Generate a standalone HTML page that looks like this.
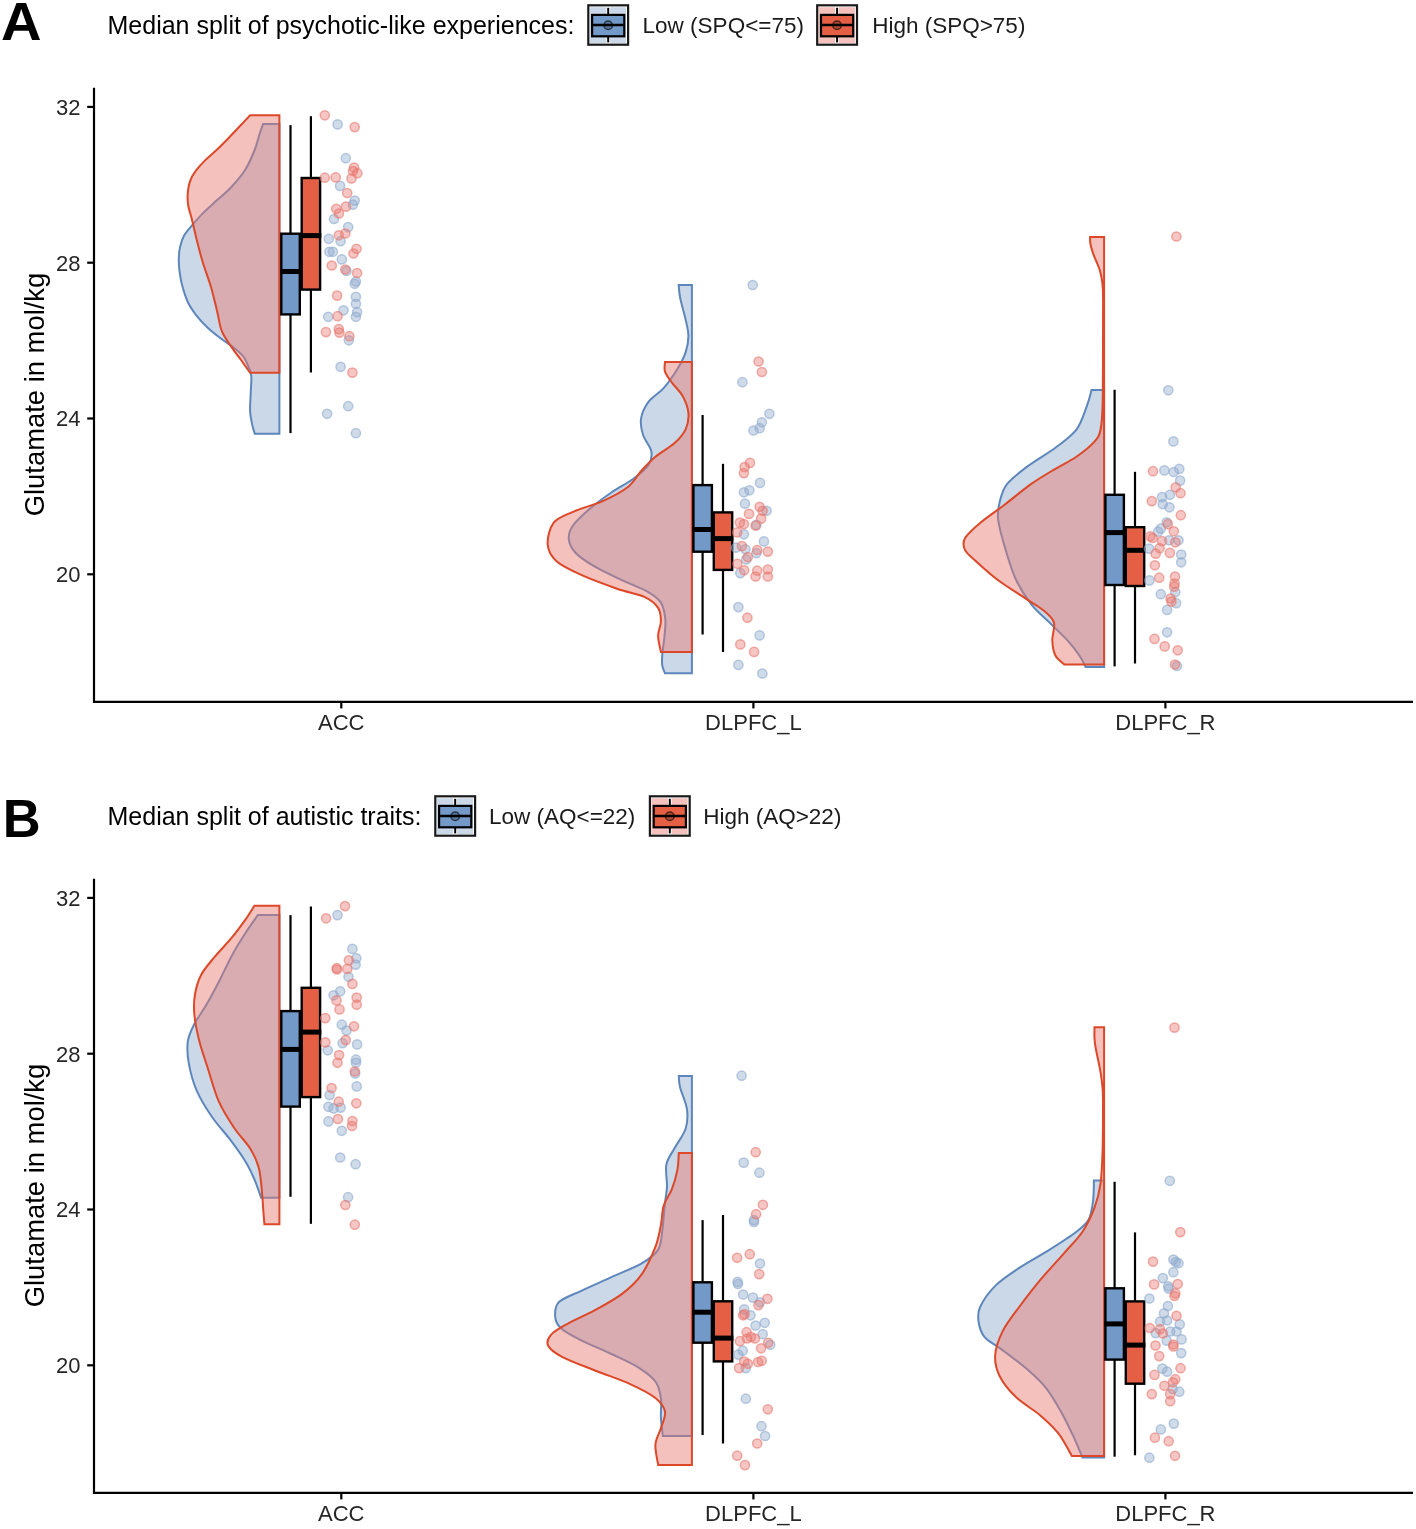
<!DOCTYPE html>
<html><head><meta charset="utf-8"><style>html,body{margin:0;padding:0;background:#fff;}svg{display:block;filter:blur(0.5px);}</style></head>
<body><svg width="1416" height="1529" viewBox="0 0 1416 1529">
<rect width="1416" height="1529" fill="#fff"/>
<text transform="translate(1.0 39.5) scale(1.06 1)" style="font-family:'Liberation Sans',sans-serif;font-weight:bold;font-size:53px" fill="#000">A</text><text x="107.5" y="33.8" style="font-family:'Liberation Sans',sans-serif;font-size:25px" fill="#000">Median split of psychotic-like experiences:</text><rect x="587.2" y="4.2" width="42" height="41.6" fill="#fff"/><g fill="rgb(142,170,205)" fill-opacity="0.46"><rect x="589.8" y="7.2" width="16.5" height="7.5"/><rect x="610.1" y="7.2" width="15.9" height="7.5"/><rect x="589.8" y="38.1" width="16.5" height="5.1"/><rect x="610.1" y="38.1" width="15.9" height="5.1"/><rect x="589.8" y="14.9" width="36.2" height="23.2"/></g><rect x="588.3" y="5.3" width="39.8" height="39.4" fill="none" stroke="#1a1a1a" stroke-width="2.2"/><line x1="608.2" y1="7.8" x2="608.2" y2="42.4" stroke="#000" stroke-width="2"/><rect x="592.1" y="14.9" width="32.2" height="21.4" fill="#7399c9" stroke="#000" stroke-width="2.2"/><circle cx="608.2" cy="25.2" r="4.3" fill="#000" fill-opacity="0.22" stroke="#000" stroke-opacity="0.6" stroke-width="1.5"/><line x1="592.1" y1="25" x2="624.3" y2="25" stroke="#000" stroke-width="2.4"/><text x="642.6" y="33.2" style="font-family:'Liberation Sans',sans-serif;font-size:22.5px" fill="#1a1a1a">Low (SPQ&lt;=75)</text><rect x="816.1" y="4.2" width="42" height="41.6" fill="#fff"/><g fill="rgb(230,120,112)" fill-opacity="0.46"><rect x="818.7" y="7.2" width="16.5" height="7.5"/><rect x="839" y="7.2" width="15.9" height="7.5"/><rect x="818.7" y="38.1" width="16.5" height="5.1"/><rect x="839" y="38.1" width="15.9" height="5.1"/><rect x="818.7" y="14.9" width="36.2" height="23.2"/></g><rect x="817.2" y="5.3" width="39.8" height="39.4" fill="none" stroke="#1a1a1a" stroke-width="2.2"/><line x1="837.1" y1="7.8" x2="837.1" y2="42.4" stroke="#000" stroke-width="2"/><rect x="821" y="14.9" width="32.2" height="21.4" fill="#e55f45" stroke="#000" stroke-width="2.2"/><circle cx="837.1" cy="25.2" r="4.3" fill="#000" fill-opacity="0.22" stroke="#000" stroke-opacity="0.6" stroke-width="1.5"/><line x1="821" y1="25" x2="853.2" y2="25" stroke="#000" stroke-width="2.4"/><text x="872.2" y="33.2" style="font-family:'Liberation Sans',sans-serif;font-size:22.5px" fill="#1a1a1a">High (SPQ&gt;75)</text><path d="M94 87.8 V701.8 H1413" fill="none" stroke="#000" stroke-width="2.2"/><line x1="87.2" y1="574.3" x2="94" y2="574.3" stroke="#000" stroke-width="2.2"/><text x="80.5" y="582.1" text-anchor="end" style="font-family:'Liberation Sans',sans-serif;font-size:22px" fill="#262626">20</text><line x1="87.2" y1="418.5" x2="94" y2="418.5" stroke="#000" stroke-width="2.2"/><text x="80.5" y="426.3" text-anchor="end" style="font-family:'Liberation Sans',sans-serif;font-size:22px" fill="#262626">24</text><line x1="87.2" y1="262.7" x2="94" y2="262.7" stroke="#000" stroke-width="2.2"/><text x="80.5" y="270.5" text-anchor="end" style="font-family:'Liberation Sans',sans-serif;font-size:22px" fill="#262626">28</text><line x1="87.2" y1="106.9" x2="94" y2="106.9" stroke="#000" stroke-width="2.2"/><text x="80.5" y="114.7" text-anchor="end" style="font-family:'Liberation Sans',sans-serif;font-size:22px" fill="#262626">32</text><line x1="341.3" y1="701.8" x2="341.3" y2="708.4" stroke="#000" stroke-width="2.2"/><text x="341.3" y="729.8" text-anchor="middle" style="font-family:'Liberation Sans',sans-serif;font-size:22px" fill="#262626">ACC</text><line x1="753.4" y1="701.8" x2="753.4" y2="708.4" stroke="#000" stroke-width="2.2"/><text x="753.4" y="729.8" text-anchor="middle" style="font-family:'Liberation Sans',sans-serif;font-size:22px" fill="#262626">DLPFC_L</text><line x1="1165.4" y1="701.8" x2="1165.4" y2="708.4" stroke="#000" stroke-width="2.2"/><text x="1165.4" y="729.8" text-anchor="middle" style="font-family:'Liberation Sans',sans-serif;font-size:22px" fill="#262626">DLPFC_R</text><text transform="translate(44.3 394.5) rotate(-90)" text-anchor="middle" style="font-family:'Liberation Sans',sans-serif;font-size:27.4px" fill="#000">Glutamate in mol/kg</text><path d="M279.4 124.1 L263 124.1 C262.4 125.8 260.9 130 259.5 134.2 C258.1 138.4 257.2 143.6 254.8 149.5 C252.5 155.4 249.3 163.2 245.4 169.5 C241.5 175.8 235.9 182.1 231.2 187.2 C226.5 192.3 221.8 195.8 217.1 200.1 C212.4 204.4 207.1 209 203 213.1 C198.9 217.2 195.6 221.2 192.4 224.9 C189.2 228.6 186.2 231.8 184.1 235.5 C182 239.2 180.9 243.3 180 247.2 C179.1 251.1 178.9 255.2 178.8 259 C178.7 262.8 178.9 265.8 179.4 270 C179.9 274.2 180.4 278.8 181.8 284.1 C183.2 289.4 185.3 296.7 187.7 301.8 C190 306.9 192.6 310.5 195.9 314.8 C199.2 319.1 203.6 323.8 207.7 327.7 C211.8 331.6 216.5 335.1 220.6 338.3 C224.7 341.5 228.7 343.7 232.4 346.6 C236.1 349.6 240.2 352.5 243 356 C245.8 359.5 247.5 364.5 248.9 367.8 C250.3 371.1 251 371.7 251.3 376 C251.6 380.3 250.9 387.8 250.7 393.7 C250.5 399.6 249.8 406 250.1 411.3 C250.4 416.6 251.6 421.8 252.4 425.5 C253.2 429.2 254.4 432.3 254.8 433.7 L279.4 433.7 Z" fill="rgb(142,170,205)" fill-opacity="0.46" stroke="#5d87bc" stroke-width="2" stroke-linejoin="miter"/><path d="M279.4 115.3 L250.1 115.3 C248.5 117 244.2 121.6 240.7 125.3 C237.2 129 232.8 133.7 228.9 137.7 C225 141.7 221 145.8 217.1 149.5 C213.2 153.2 208.8 156.6 205.3 160.1 C201.8 163.6 198.5 167.2 195.9 170.7 C193.3 174.2 191.4 177.4 190 181.3 C188.6 185.2 188 190.1 187.7 194.2 C187.4 198.3 187.6 201.9 188.3 206 C189 210.1 190.3 213.1 191.8 219 C193.3 224.9 195.4 234.6 197.1 241.3 C198.8 248 200.4 254.2 201.8 259 C203.2 263.8 203.7 265.2 205.3 270 C206.9 274.8 209.2 280.8 211.2 287.7 C213.2 294.6 215.3 303.9 217.1 311.2 C218.9 318.4 219.5 325.3 221.8 331.2 C224.2 337.1 228 341.9 231.2 346.6 C234.3 351.3 237.5 355.1 240.7 359.5 C243.8 363.9 248.5 370.6 250.1 372.8 L279.4 372.8 Z" fill="rgb(230,120,112)" fill-opacity="0.46" stroke="#dc4828" stroke-width="2" stroke-linejoin="miter"/><path d="M691.9 285.1 L678.7 285.1 C678.9 287.2 679 291.8 680.1 297.5 C681.2 303.2 684.2 313.1 685.6 319.5 C687 325.9 688.4 330.4 688.4 335.9 C688.4 341.4 687.4 346.9 685.6 352.4 C683.8 357.9 681.1 362.9 677.4 368.9 C673.7 374.8 668.4 382.6 663.6 388.1 C658.8 393.6 652.2 396.8 648.5 401.9 C644.8 406.9 642 412.9 641.1 418.4 C640.2 423.9 641.3 429.3 643 434.8 C644.7 440.3 650.4 446.3 651.3 451.3 C652.2 456.3 651.5 460.4 648.5 465 C645.5 469.6 639.6 474.2 633.4 478.8 C627.2 483.4 618.7 487.5 611.4 492.5 C604.1 497.5 595.9 503.5 589.5 509 C583.1 514.5 576.5 520.5 573 525.5 C569.5 530.5 568.3 534.6 568.8 539.2 C569.2 543.8 571.4 548.4 575.7 553 C580.1 557.6 587.1 562.1 594.9 566.7 C602.7 571.3 613.7 576.3 622.4 580.4 C631.1 584.5 640.7 587.7 647.1 591.4 C653.5 595.1 657.7 597.8 660.7 602.4 C663.7 607 664.7 613.4 665.3 619 C665.9 624.6 665 630.1 664.5 636 C664 641.9 662.7 649.7 662.3 654.6 C661.9 659.5 661.8 662.5 662.3 665.6 C662.8 668.7 664.5 672 665 673.3 L691.9 673.3 Z" fill="rgb(142,170,205)" fill-opacity="0.46" stroke="#5d87bc" stroke-width="2" stroke-linejoin="miter"/><path d="M691.9 362 L665 362 C665 363.6 663.9 368.2 665 371.6 C666.1 375 668.9 378.5 671.9 382.6 C674.9 386.7 680.1 391.3 682.9 396.4 C685.6 401.4 687.9 407.4 688.4 412.9 C688.9 418.4 687.9 424.3 685.6 429.3 C683.3 434.3 679.6 438.5 674.6 443.1 C669.6 447.7 660.9 452.2 655.4 456.8 C649.9 461.4 646.2 465.5 641.6 470.5 C637 475.5 634.3 481.9 627.9 487 C621.5 492.1 612.4 496.7 603.2 500.8 C594.1 504.9 581.2 508.1 573 511.8 C564.8 515.5 557.9 517.2 553.7 522.7 C549.5 528.2 547.2 538.3 547.7 544.7 C548.2 551.1 550.9 556.2 556.5 561.2 C562.1 566.2 571.1 570.3 581.2 574.9 C591.3 579.5 606.5 585 617 588.7 C627.5 592.4 637.5 593.7 644.4 596.9 C651.2 600.1 655.4 603.8 658.1 607.9 C660.9 612 660.9 617 660.9 621.6 C660.9 626.2 658.1 630.4 658.1 635.4 C658.1 640.4 660.4 649.1 660.9 651.9 L691.9 651.9 Z" fill="rgb(230,120,112)" fill-opacity="0.46" stroke="#dc4828" stroke-width="2" stroke-linejoin="miter"/><path d="M1104.1 390 L1091.5 390 C1090.8 392.6 1089.5 399 1087 405.6 C1084.5 412.2 1081.7 422.7 1076.4 429.7 C1071.1 436.7 1063.4 441.8 1055.4 447.8 C1047.4 453.8 1036.3 459.8 1028.3 465.8 C1020.3 471.8 1012 477.9 1007.2 483.9 C1002.4 489.9 1001.2 495.9 999.7 501.9 C998.2 507.9 997.2 512 998.2 520 C999.2 528 1002.7 540.1 1005.7 550.1 C1008.7 560.1 1011.9 571.2 1016.2 580.2 C1020.5 589.2 1025.8 597.3 1031.3 604.3 C1036.8 611.3 1043.3 616.4 1049.3 622.4 C1055.3 628.4 1062.4 634.9 1067.4 640.4 C1072.4 645.9 1076.4 651.1 1079.4 655.5 C1082.4 659.9 1084.5 665 1085.5 666.9 L1104.1 666.9 Z" fill="rgb(142,170,205)" fill-opacity="0.46" stroke="#5d87bc" stroke-width="2" stroke-linejoin="miter"/><path d="M1104.1 237 L1090.1 237 C1090.1 238.1 1089.9 241 1090.4 243.7 C1090.9 246.3 1091.9 249.8 1092.9 252.9 C1093.9 256 1095.4 259.1 1096.6 262 C1097.8 264.9 1099 267.6 1099.8 270.3 C1100.6 273 1101.1 275.3 1101.6 278.1 C1102.1 280.9 1102.5 283.6 1102.7 287.2 C1103 290.8 1103 290.3 1103.1 300 C1103.1 309.7 1103.1 327.8 1103 345.4 C1102.9 363 1103 391.6 1102.6 405.6 C1102.2 419.7 1101.8 423.7 1100.5 429.7 C1099.2 435.7 1098.5 437.2 1094.5 441.7 C1090.5 446.2 1082.9 452.3 1076.4 456.8 C1069.9 461.3 1062.9 464.3 1055.4 468.8 C1047.9 473.3 1039.8 477.9 1031.3 483.9 C1022.8 489.9 1012.7 498.5 1004.2 505 C995.7 511.5 986.6 517.5 980.1 523 C973.6 528.5 967.6 533.6 965.1 538.1 C962.6 542.6 963.1 546.1 965.1 550.1 C967.1 554.1 971.6 557.2 977.1 562.2 C982.6 567.2 990.2 574.2 998.2 580.2 C1006.2 586.2 1017.8 593.3 1025.3 598.3 C1032.8 603.3 1038.5 606.3 1043.3 610.3 C1048.1 614.3 1052.4 617.4 1053.9 622.4 C1055.4 627.4 1052 634.9 1052.3 640.4 C1052.5 645.9 1053.4 651.5 1055.4 655.5 C1057.4 659.5 1062.9 663 1064.4 664.5 L1104.1 664.5 Z" fill="rgb(230,120,112)" fill-opacity="0.46" stroke="#dc4828" stroke-width="2" stroke-linejoin="miter"/><line x1="290.5" y1="125.1" x2="290.5" y2="233.7" stroke="#000" stroke-width="2.2"/><line x1="290.5" y1="314.4" x2="290.5" y2="433.1" stroke="#000" stroke-width="2.2"/><rect x="281.3" y="233.7" width="18.5" height="80.7" fill="#7399c9" stroke="#000" stroke-width="2.4"/><line x1="280.1" y1="271.5" x2="301" y2="271.5" stroke="#000" stroke-width="5"/><line x1="310.9" y1="116.2" x2="310.9" y2="178" stroke="#000" stroke-width="2.2"/><line x1="310.9" y1="289.6" x2="310.9" y2="372.5" stroke="#000" stroke-width="2.2"/><rect x="301.7" y="178" width="18.4" height="111.6" fill="#e55f45" stroke="#000" stroke-width="2.4"/><line x1="300.5" y1="235.6" x2="321.3" y2="235.6" stroke="#000" stroke-width="5"/><line x1="702.6" y1="415" x2="702.6" y2="485.1" stroke="#000" stroke-width="2.2"/><line x1="702.6" y1="551.7" x2="702.6" y2="634.5" stroke="#000" stroke-width="2.2"/><rect x="693.4" y="485.1" width="18.5" height="66.6" fill="#7399c9" stroke="#000" stroke-width="2.4"/><line x1="692.2" y1="529.5" x2="713.1" y2="529.5" stroke="#000" stroke-width="5"/><line x1="723" y1="463.8" x2="723" y2="512.4" stroke="#000" stroke-width="2.2"/><line x1="723" y1="569.9" x2="723" y2="652" stroke="#000" stroke-width="2.2"/><rect x="713.8" y="512.4" width="18.4" height="57.5" fill="#e55f45" stroke="#000" stroke-width="2.4"/><line x1="712.6" y1="538.6" x2="733.4" y2="538.6" stroke="#000" stroke-width="5"/><line x1="1114.6" y1="389.8" x2="1114.6" y2="494.8" stroke="#000" stroke-width="2.2"/><line x1="1114.6" y1="585" x2="1114.6" y2="666.4" stroke="#000" stroke-width="2.2"/><rect x="1105.4" y="494.8" width="18.5" height="90.2" fill="#7399c9" stroke="#000" stroke-width="2.4"/><line x1="1104.2" y1="532.6" x2="1125.1" y2="532.6" stroke="#000" stroke-width="5"/><line x1="1135" y1="471.8" x2="1135" y2="527.2" stroke="#000" stroke-width="2.2"/><line x1="1135" y1="586" x2="1135" y2="663.5" stroke="#000" stroke-width="2.2"/><rect x="1125.8" y="527.2" width="18.4" height="58.8" fill="#e55f45" stroke="#000" stroke-width="2.4"/><line x1="1124.6" y1="550.3" x2="1145.4" y2="550.3" stroke="#000" stroke-width="5"/><g fill="rgb(142,170,205)" fill-opacity="0.42" stroke="rgb(142,170,205)" stroke-opacity="0.6" stroke-width="1.5"><circle cx="337.6" cy="124.4" r="4.6"/><circle cx="345.8" cy="158.2" r="4.6"/><circle cx="340.1" cy="185.9" r="4.6"/><circle cx="354.7" cy="200.6" r="4.6"/><circle cx="352.9" cy="204.6" r="4.6"/><circle cx="334" cy="219" r="4.6"/><circle cx="348.2" cy="227.1" r="4.6"/><circle cx="328.8" cy="238.8" r="4.6"/><circle cx="340.6" cy="241.2" r="4.6"/><circle cx="329.4" cy="251.8" r="4.6"/><circle cx="332.9" cy="251.8" r="4.6"/><circle cx="341.8" cy="259.4" r="4.6"/><circle cx="346.5" cy="271" r="4.6"/><circle cx="355.9" cy="281.5" r="4.6"/><circle cx="354.7" cy="283.8" r="4.6"/><circle cx="355.9" cy="296.8" r="4.6"/><circle cx="355.9" cy="303.8" r="4.6"/><circle cx="357.1" cy="312.1" r="4.6"/><circle cx="355.9" cy="316.8" r="4.6"/><circle cx="343.5" cy="310.3" r="4.6"/><circle cx="328.2" cy="316.8" r="4.6"/><circle cx="348.8" cy="340.3" r="4.6"/><circle cx="340.6" cy="366.8" r="4.6"/><circle cx="348.2" cy="406.2" r="4.6"/><circle cx="327.1" cy="413.8" r="4.6"/><circle cx="355.9" cy="433.2" r="4.6"/></g><g fill="rgb(230,120,112)" fill-opacity="0.42" stroke="rgb(230,120,112)" stroke-opacity="0.6" stroke-width="1.5"><circle cx="324.8" cy="115.3" r="4.6"/><circle cx="354.7" cy="127.1" r="4.6"/><circle cx="354.1" cy="167.6" r="4.6"/><circle cx="357.4" cy="173.2" r="4.6"/><circle cx="353" cy="171" r="4.6"/><circle cx="351.5" cy="178.4" r="4.6"/><circle cx="324.8" cy="177.7" r="4.6"/><circle cx="335.7" cy="177.4" r="4.6"/><circle cx="347.2" cy="193" r="4.6"/><circle cx="336.2" cy="208.8" r="4.6"/><circle cx="346" cy="206.6" r="4.6"/><circle cx="338.9" cy="213.5" r="4.6"/><circle cx="338.8" cy="235.3" r="4.6"/><circle cx="345.3" cy="233.5" r="4.6"/><circle cx="356.5" cy="248.8" r="4.6"/><circle cx="353.5" cy="253.5" r="4.6"/><circle cx="331.8" cy="265.5" r="4.6"/><circle cx="345.3" cy="269.5" r="4.6"/><circle cx="357.1" cy="273" r="4.6"/><circle cx="337.1" cy="295.6" r="4.6"/><circle cx="337.6" cy="316.2" r="4.6"/><circle cx="325.9" cy="332.1" r="4.6"/><circle cx="338.8" cy="329.1" r="4.6"/><circle cx="339.4" cy="332.6" r="4.6"/><circle cx="349.4" cy="336.2" r="4.6"/><circle cx="352.4" cy="372.6" r="4.6"/></g><g fill="rgb(142,170,205)" fill-opacity="0.42" stroke="rgb(142,170,205)" stroke-opacity="0.6" stroke-width="1.5"><circle cx="752.7" cy="285" r="4.6"/><circle cx="742.4" cy="382.2" r="4.6"/><circle cx="769.4" cy="413.8" r="4.6"/><circle cx="761.9" cy="422.3" r="4.6"/><circle cx="759.6" cy="428.2" r="4.6"/><circle cx="753.5" cy="430.5" r="4.6"/><circle cx="760" cy="482.9" r="4.6"/><circle cx="743.9" cy="492.3" r="4.6"/><circle cx="749.4" cy="490.3" r="4.6"/><circle cx="745" cy="503.7" r="4.6"/><circle cx="766.6" cy="510.8" r="4.6"/><circle cx="756.4" cy="524.9" r="4.6"/><circle cx="743.9" cy="534.3" r="4.6"/><circle cx="763.9" cy="541.4" r="4.6"/><circle cx="736" cy="547.7" r="4.6"/><circle cx="745.4" cy="549.3" r="4.6"/><circle cx="756.4" cy="553.2" r="4.6"/><circle cx="746.2" cy="559.5" r="4.6"/><circle cx="740.3" cy="573.1" r="4.6"/><circle cx="738.4" cy="607.1" r="4.6"/><circle cx="759.6" cy="635.4" r="4.6"/><circle cx="738.4" cy="664.9" r="4.6"/><circle cx="762.3" cy="673.5" r="4.6"/></g><g fill="rgb(230,120,112)" fill-opacity="0.42" stroke="rgb(230,120,112)" stroke-opacity="0.6" stroke-width="1.5"><circle cx="758.6" cy="361.5" r="4.6"/><circle cx="761.9" cy="372" r="4.6"/><circle cx="750" cy="462.9" r="4.6"/><circle cx="744.6" cy="467.1" r="4.6"/><circle cx="743.9" cy="473.1" r="4.6"/><circle cx="759.6" cy="506.8" r="4.6"/><circle cx="762.7" cy="510.8" r="4.6"/><circle cx="761.1" cy="518.6" r="4.6"/><circle cx="749" cy="513.9" r="4.6"/><circle cx="739.9" cy="522.6" r="4.6"/><circle cx="743.9" cy="524.1" r="4.6"/><circle cx="755.6" cy="525.7" r="4.6"/><circle cx="737.2" cy="532.4" r="4.6"/><circle cx="741.9" cy="546.1" r="4.6"/><circle cx="757.2" cy="550" r="4.6"/><circle cx="767.8" cy="551.6" r="4.6"/><circle cx="747.8" cy="557.1" r="4.6"/><circle cx="737.4" cy="563.8" r="4.6"/><circle cx="744.2" cy="570.3" r="4.6"/><circle cx="757.2" cy="570.7" r="4.6"/><circle cx="767.8" cy="569.5" r="4.6"/><circle cx="755.6" cy="576.5" r="4.6"/><circle cx="767.8" cy="576.5" r="4.6"/><circle cx="747.4" cy="617.7" r="4.6"/><circle cx="740.3" cy="644.4" r="4.6"/><circle cx="754.1" cy="651.9" r="4.6"/></g><g fill="rgb(142,170,205)" fill-opacity="0.42" stroke="rgb(142,170,205)" stroke-opacity="0.6" stroke-width="1.5"><circle cx="1168.3" cy="390.3" r="4.6"/><circle cx="1173.4" cy="441.4" r="4.6"/><circle cx="1164.4" cy="470.4" r="4.6"/><circle cx="1173.8" cy="472" r="4.6"/><circle cx="1179.3" cy="468.9" r="4.6"/><circle cx="1180.1" cy="480.6" r="4.6"/><circle cx="1162" cy="497.1" r="4.6"/><circle cx="1169.9" cy="494.8" r="4.6"/><circle cx="1162.8" cy="504.2" r="4.6"/><circle cx="1169.5" cy="507.3" r="4.6"/><circle cx="1166.7" cy="522.3" r="4.6"/><circle cx="1160.8" cy="528.6" r="4.6"/><circle cx="1158.1" cy="531.7" r="4.6"/><circle cx="1169.1" cy="540.3" r="4.6"/><circle cx="1178.5" cy="540.3" r="4.6"/><circle cx="1149" cy="548.6" r="4.6"/><circle cx="1181.2" cy="554.5" r="4.6"/><circle cx="1181.2" cy="562.3" r="4.6"/><circle cx="1149.4" cy="580.4" r="4.6"/><circle cx="1160.8" cy="594.2" r="4.6"/><circle cx="1175.3" cy="592.2" r="4.6"/><circle cx="1176.1" cy="603.2" r="4.6"/><circle cx="1167.1" cy="609.9" r="4.6"/><circle cx="1167.1" cy="632.3" r="4.6"/><circle cx="1176.9" cy="666" r="4.6"/></g><g fill="rgb(230,120,112)" fill-opacity="0.42" stroke="rgb(230,120,112)" stroke-opacity="0.6" stroke-width="1.5"><circle cx="1176.4" cy="236.5" r="4.6"/><circle cx="1153" cy="471.2" r="4.6"/><circle cx="1175.7" cy="487.3" r="4.6"/><circle cx="1180.5" cy="493.2" r="4.6"/><circle cx="1151.8" cy="501.1" r="4.6"/><circle cx="1180.8" cy="515.2" r="4.6"/><circle cx="1167.9" cy="524.2" r="4.6"/><circle cx="1173.8" cy="531.3" r="4.6"/><circle cx="1150.2" cy="536.4" r="4.6"/><circle cx="1152.6" cy="538" r="4.6"/><circle cx="1162" cy="541.1" r="4.6"/><circle cx="1175.3" cy="542.3" r="4.6"/><circle cx="1159.6" cy="548.2" r="4.6"/><circle cx="1169.9" cy="552.9" r="4.6"/><circle cx="1155.7" cy="553.7" r="4.6"/><circle cx="1154.9" cy="565.3" r="4.6"/><circle cx="1159.2" cy="577.7" r="4.6"/><circle cx="1175" cy="576.5" r="4.6"/><circle cx="1174.6" cy="583.6" r="4.6"/><circle cx="1174.2" cy="586.7" r="4.6"/><circle cx="1170.6" cy="598.5" r="4.6"/><circle cx="1171.4" cy="601.6" r="4.6"/><circle cx="1154.5" cy="638.9" r="4.6"/><circle cx="1164.7" cy="646.4" r="4.6"/><circle cx="1177.7" cy="650.3" r="4.6"/><circle cx="1175" cy="664.5" r="4.6"/></g><text transform="translate(2.8 836.6) scale(0.99 1)" style="font-family:'Liberation Sans',sans-serif;font-weight:bold;font-size:53px" fill="#000">B</text><text x="107.5" y="824.8" style="font-family:'Liberation Sans',sans-serif;font-size:25px" fill="#000">Median split of autistic traits:</text><rect x="434.2" y="795.2" width="42" height="41.6" fill="#fff"/><g fill="rgb(142,170,205)" fill-opacity="0.46"><rect x="436.8" y="798.2" width="16.5" height="7.5"/><rect x="457.1" y="798.2" width="15.9" height="7.5"/><rect x="436.8" y="829.1" width="16.5" height="5.1"/><rect x="457.1" y="829.1" width="15.9" height="5.1"/><rect x="436.8" y="805.9" width="36.2" height="23.2"/></g><rect x="435.3" y="796.3" width="39.8" height="39.4" fill="none" stroke="#1a1a1a" stroke-width="2.2"/><line x1="455.2" y1="798.8" x2="455.2" y2="833.4" stroke="#000" stroke-width="2"/><rect x="439.1" y="805.9" width="32.2" height="21.4" fill="#7399c9" stroke="#000" stroke-width="2.2"/><circle cx="455.2" cy="816.2" r="4.3" fill="#000" fill-opacity="0.22" stroke="#000" stroke-opacity="0.6" stroke-width="1.5"/><line x1="439.1" y1="816" x2="471.3" y2="816" stroke="#000" stroke-width="2.4"/><text x="489" y="824.2" style="font-family:'Liberation Sans',sans-serif;font-size:22.5px" fill="#1a1a1a">Low (AQ&lt;=22)</text><rect x="648.8" y="795.2" width="42" height="41.6" fill="#fff"/><g fill="rgb(230,120,112)" fill-opacity="0.46"><rect x="651.4" y="798.2" width="16.5" height="7.5"/><rect x="671.7" y="798.2" width="15.9" height="7.5"/><rect x="651.4" y="829.1" width="16.5" height="5.1"/><rect x="671.7" y="829.1" width="15.9" height="5.1"/><rect x="651.4" y="805.9" width="36.2" height="23.2"/></g><rect x="649.9" y="796.3" width="39.8" height="39.4" fill="none" stroke="#1a1a1a" stroke-width="2.2"/><line x1="669.8" y1="798.8" x2="669.8" y2="833.4" stroke="#000" stroke-width="2"/><rect x="653.7" y="805.9" width="32.2" height="21.4" fill="#e55f45" stroke="#000" stroke-width="2.2"/><circle cx="669.8" cy="816.2" r="4.3" fill="#000" fill-opacity="0.22" stroke="#000" stroke-opacity="0.6" stroke-width="1.5"/><line x1="653.7" y1="816" x2="685.9" y2="816" stroke="#000" stroke-width="2.4"/><text x="703.2" y="824.2" style="font-family:'Liberation Sans',sans-serif;font-size:22.5px" fill="#1a1a1a">High (AQ&gt;22)</text><path d="M94 878.8 V1492.8 H1413" fill="none" stroke="#000" stroke-width="2.2"/><line x1="87.2" y1="1365.3" x2="94" y2="1365.3" stroke="#000" stroke-width="2.2"/><text x="80.5" y="1373.1" text-anchor="end" style="font-family:'Liberation Sans',sans-serif;font-size:22px" fill="#262626">20</text><line x1="87.2" y1="1209.5" x2="94" y2="1209.5" stroke="#000" stroke-width="2.2"/><text x="80.5" y="1217.3" text-anchor="end" style="font-family:'Liberation Sans',sans-serif;font-size:22px" fill="#262626">24</text><line x1="87.2" y1="1053.7" x2="94" y2="1053.7" stroke="#000" stroke-width="2.2"/><text x="80.5" y="1061.5" text-anchor="end" style="font-family:'Liberation Sans',sans-serif;font-size:22px" fill="#262626">28</text><line x1="87.2" y1="897.9" x2="94" y2="897.9" stroke="#000" stroke-width="2.2"/><text x="80.5" y="905.7" text-anchor="end" style="font-family:'Liberation Sans',sans-serif;font-size:22px" fill="#262626">32</text><line x1="341.3" y1="1492.8" x2="341.3" y2="1499.4" stroke="#000" stroke-width="2.2"/><text x="341.3" y="1520.8" text-anchor="middle" style="font-family:'Liberation Sans',sans-serif;font-size:22px" fill="#262626">ACC</text><line x1="753.4" y1="1492.8" x2="753.4" y2="1499.4" stroke="#000" stroke-width="2.2"/><text x="753.4" y="1520.8" text-anchor="middle" style="font-family:'Liberation Sans',sans-serif;font-size:22px" fill="#262626">DLPFC_L</text><line x1="1165.4" y1="1492.8" x2="1165.4" y2="1499.4" stroke="#000" stroke-width="2.2"/><text x="1165.4" y="1520.8" text-anchor="middle" style="font-family:'Liberation Sans',sans-serif;font-size:22px" fill="#262626">DLPFC_R</text><text transform="translate(44.3 1185.5) rotate(-90)" text-anchor="middle" style="font-family:'Liberation Sans',sans-serif;font-size:27.4px" fill="#000">Glutamate in mol/kg</text><path d="M279.4 915 L257.8 915 C255.8 918 249.9 926.1 245.6 932.8 C241.3 939.5 236.6 946.9 232.2 955 C227.8 963.1 223.3 973.2 218.9 981.7 C214.5 990.2 209.7 999.1 205.6 1006.1 C201.5 1013.1 197.4 1018 194.4 1023.9 C191.4 1029.8 188.7 1035 187.8 1041.7 C186.9 1048.4 187.4 1055.8 188.9 1063.9 C190.4 1072.1 192.8 1081.7 196.7 1090.6 C200.6 1099.5 206.6 1109.1 212.2 1117.2 C217.8 1125.3 224.4 1132 230 1139.4 C235.6 1146.8 241.5 1155 245.6 1161.7 C249.7 1168.4 251.8 1173.4 254.4 1179.4 C257 1185.4 260 1194.7 261.1 1197.7 L279.4 1197.7 Z" fill="rgb(142,170,205)" fill-opacity="0.46" stroke="#5d87bc" stroke-width="2" stroke-linejoin="miter"/><path d="M279.4 905.7 L254.4 905.7 C252.9 908 249.3 914.1 245.6 919.4 C241.9 924.6 237.4 930.9 232.2 937.2 C227 943.5 219.6 950.9 214.4 957.2 C209.2 963.5 204.3 968.7 201.1 975 C197.8 981.3 196 988.3 194.9 995 C193.8 1001.7 193.7 1007.6 194.4 1015 C195.1 1022.4 196.7 1030.5 198.9 1039.4 C201.1 1048.3 204.5 1057.9 207.8 1068.3 C211.1 1078.7 214.5 1091.7 218.9 1101.7 C223.3 1111.7 229.2 1120.5 234.4 1128.3 C239.6 1136.1 245.9 1141.6 250 1148.3 C254.1 1155 256.9 1160.5 258.9 1168.3 C260.9 1176.1 261.5 1188 262.2 1195 C262.9 1202 262.9 1205.7 263.3 1210.6 C263.7 1215.5 264.2 1222 264.4 1224.3 L279.4 1224.3 Z" fill="rgb(230,120,112)" fill-opacity="0.46" stroke="#dc4828" stroke-width="2" stroke-linejoin="miter"/><path d="M691.9 1075.9 L678.8 1075.9 C679 1077.8 678.7 1081.9 680.1 1087.5 C681.5 1093.1 686.1 1102.6 687 1109.5 C687.9 1116.4 687.6 1122.3 685.6 1128.7 C683.6 1135.1 677.9 1142 674.7 1147.9 C671.5 1153.9 667.7 1158 666.4 1164.4 C665.1 1170.8 667.2 1180 667 1186.4 C666.8 1192.8 665.8 1195.6 665 1202.9 C664.2 1210.2 663.4 1222.6 662.3 1230.4 C661.2 1238.2 661.6 1244.1 658.2 1249.6 C654.8 1255.1 649.5 1258.8 641.7 1263.4 C633.9 1268 621.5 1272.5 611.4 1277.1 C601.3 1281.7 589.9 1286.7 581.2 1290.8 C572.5 1294.9 563.6 1297.7 559.2 1301.8 C554.9 1305.9 554.9 1311.2 555.1 1315.6 C555.3 1319.9 556.2 1323.8 560.6 1327.9 C565 1332 572.7 1336 581.2 1340.3 C589.7 1344.6 601.8 1349.4 611.4 1354 C621 1358.6 631.6 1363.2 638.9 1367.8 C646.2 1372.4 651.7 1376.5 655.4 1381.5 C659.1 1386.5 660 1392 660.9 1398 C661.8 1404 660.6 1410.9 660.9 1417.2 C661.2 1423.5 662.5 1432.8 662.8 1435.9 L691.9 1435.9 Z" fill="rgb(142,170,205)" fill-opacity="0.46" stroke="#5d87bc" stroke-width="2" stroke-linejoin="miter"/><path d="M691.9 1152.9 L678.8 1152.9 C678.6 1155.7 678.5 1163.9 677.4 1169.9 C676.2 1176 674.2 1183.2 671.9 1189.2 C669.6 1195.2 665.5 1199.6 663.7 1205.6 C661.9 1211.5 662.3 1218 660.9 1224.9 C659.5 1231.8 658.6 1238.7 655.4 1246.9 C652.2 1255.1 647.2 1266.5 641.7 1274.3 C636.2 1282.1 630.2 1287.6 622.4 1293.6 C614.6 1299.6 604.1 1305.1 595 1310.1 C585.9 1315.1 574.8 1319.7 567.5 1323.8 C560.2 1327.9 554.2 1331.1 551 1334.8 C547.8 1338.5 546.4 1342.1 548.2 1345.8 C550 1349.5 554.2 1352.7 562 1356.8 C569.8 1360.9 583.5 1365.9 595 1370.5 C606.5 1375.1 620.6 1379.7 630.7 1384.3 C640.8 1388.9 649.7 1393.4 655.4 1398 C661.1 1402.6 664.1 1406.7 665 1411.7 C665.9 1416.7 662.5 1422.7 660.9 1428.2 C659.3 1433.7 655.8 1438.6 655.4 1444.7 C655 1450.8 657.7 1461.6 658.2 1465 L691.9 1465 Z" fill="rgb(230,120,112)" fill-opacity="0.46" stroke="#dc4828" stroke-width="2" stroke-linejoin="miter"/><path d="M1104.1 1180.6 L1093.9 1180.6 C1093.8 1184.1 1093.9 1195.1 1093 1201.6 C1092.1 1208.1 1091.3 1214.7 1088.5 1219.7 C1085.7 1224.7 1082.9 1226.7 1076.4 1231.7 C1069.9 1236.7 1058.8 1243.8 1049.3 1249.8 C1039.8 1255.8 1028.2 1261.9 1019.2 1267.9 C1010.2 1273.9 1001.7 1279.4 995.2 1285.9 C988.7 1292.4 982.9 1301 980.1 1307 C977.3 1313 977.9 1317 978.6 1322 C979.4 1327 980.8 1332.6 984.6 1337.1 C988.4 1341.6 993.9 1343.6 1001.2 1349.1 C1008.5 1354.6 1020.8 1363.7 1028.3 1370.2 C1035.8 1376.7 1040.8 1381.3 1046.3 1388.3 C1051.8 1395.3 1056.9 1404.4 1061.4 1412.4 C1065.9 1420.4 1069.9 1428.9 1073.4 1436.4 C1076.9 1443.9 1081 1454 1082.5 1457.5 L1104.1 1457.5 Z" fill="rgb(142,170,205)" fill-opacity="0.46" stroke="#5d87bc" stroke-width="2" stroke-linejoin="miter"/><path d="M1104.1 1027.3 L1094.5 1027.3 C1094.5 1029.1 1094.3 1034.9 1094.5 1038.3 C1094.7 1041.7 1095 1044.1 1095.6 1047.5 C1096.2 1050.9 1097.1 1055.1 1097.9 1058.9 C1098.7 1062.7 1099.6 1067 1100.2 1070.4 C1100.8 1073.8 1101.2 1076.2 1101.6 1079.5 C1102 1082.8 1102.5 1085.8 1102.7 1090 C1102.9 1094.2 1103 1094.9 1103 1105 C1103 1115.1 1103 1137.4 1102.6 1150.5 C1102.2 1163.6 1101.8 1174.1 1100.5 1183.6 C1099.2 1193.1 1097.5 1199.7 1094.5 1207.7 C1091.5 1215.7 1087.5 1224.2 1082.5 1231.7 C1077.5 1239.2 1071.4 1244.8 1064.4 1252.8 C1057.4 1260.8 1047.8 1270.9 1040.3 1279.9 C1032.8 1288.9 1025.5 1298.5 1019.2 1307 C1012.9 1315.5 1006.7 1323.1 1002.7 1331.1 C998.7 1339.1 995.7 1347.7 995.2 1355.2 C994.7 1362.7 996.2 1369.2 999.7 1376.2 C1003.2 1383.2 1009.4 1390.8 1016.2 1397.3 C1023 1403.8 1033.3 1409.4 1040.3 1415.4 C1047.3 1421.4 1053.1 1426.6 1058.4 1433.4 C1063.7 1440.2 1069.7 1452.2 1071.9 1456 L1104.1 1456 Z" fill="rgb(230,120,112)" fill-opacity="0.46" stroke="#dc4828" stroke-width="2" stroke-linejoin="miter"/><line x1="290.5" y1="915.1" x2="290.5" y2="1011.1" stroke="#000" stroke-width="2.2"/><line x1="290.5" y1="1106.6" x2="290.5" y2="1196.8" stroke="#000" stroke-width="2.2"/><rect x="281.3" y="1011.1" width="18.5" height="95.5" fill="#7399c9" stroke="#000" stroke-width="2.4"/><line x1="280.1" y1="1049.4" x2="301" y2="1049.4" stroke="#000" stroke-width="5"/><line x1="310.9" y1="906.5" x2="310.9" y2="987.8" stroke="#000" stroke-width="2.2"/><line x1="310.9" y1="1097.1" x2="310.9" y2="1223.8" stroke="#000" stroke-width="2.2"/><rect x="301.7" y="987.8" width="18.4" height="109.3" fill="#e55f45" stroke="#000" stroke-width="2.4"/><line x1="300.5" y1="1032.1" x2="321.3" y2="1032.1" stroke="#000" stroke-width="5"/><line x1="702.6" y1="1220.1" x2="702.6" y2="1282.3" stroke="#000" stroke-width="2.2"/><line x1="702.6" y1="1342.7" x2="702.6" y2="1435" stroke="#000" stroke-width="2.2"/><rect x="693.4" y="1282.3" width="18.5" height="60.4" fill="#7399c9" stroke="#000" stroke-width="2.4"/><line x1="692.2" y1="1312.2" x2="713.1" y2="1312.2" stroke="#000" stroke-width="5"/><line x1="723" y1="1215" x2="723" y2="1301.3" stroke="#000" stroke-width="2.2"/><line x1="723" y1="1361.4" x2="723" y2="1443.5" stroke="#000" stroke-width="2.2"/><rect x="713.8" y="1301.3" width="18.4" height="60.1" fill="#e55f45" stroke="#000" stroke-width="2.4"/><line x1="712.6" y1="1338.1" x2="733.4" y2="1338.1" stroke="#000" stroke-width="5"/><line x1="1114.6" y1="1181.8" x2="1114.6" y2="1288.3" stroke="#000" stroke-width="2.2"/><line x1="1114.6" y1="1359.6" x2="1114.6" y2="1456.7" stroke="#000" stroke-width="2.2"/><rect x="1105.4" y="1288.3" width="18.5" height="71.3" fill="#7399c9" stroke="#000" stroke-width="2.4"/><line x1="1104.2" y1="1323.9" x2="1125.1" y2="1323.9" stroke="#000" stroke-width="5"/><line x1="1135" y1="1232.4" x2="1135" y2="1301.4" stroke="#000" stroke-width="2.2"/><line x1="1135" y1="1383.7" x2="1135" y2="1455.3" stroke="#000" stroke-width="2.2"/><rect x="1125.8" y="1301.4" width="18.4" height="82.3" fill="#e55f45" stroke="#000" stroke-width="2.4"/><line x1="1124.6" y1="1345.1" x2="1145.4" y2="1345.1" stroke="#000" stroke-width="5"/><g fill="rgb(142,170,205)" fill-opacity="0.42" stroke="rgb(142,170,205)" stroke-opacity="0.6" stroke-width="1.5"><circle cx="337.5" cy="915.1" r="4.6"/><circle cx="352.4" cy="948.9" r="4.6"/><circle cx="356.3" cy="958.3" r="4.6"/><circle cx="355.6" cy="964.6" r="4.6"/><circle cx="348.5" cy="976.8" r="4.6"/><circle cx="340.2" cy="991.3" r="4.6"/><circle cx="333.6" cy="995.3" r="4.6"/><circle cx="341.8" cy="1024.7" r="4.6"/><circle cx="346.5" cy="1030.6" r="4.6"/><circle cx="342.6" cy="1043.2" r="4.6"/><circle cx="357.1" cy="1044.4" r="4.6"/><circle cx="327.7" cy="1050.3" r="4.6"/><circle cx="356" cy="1059.7" r="4.6"/><circle cx="356" cy="1062.8" r="4.6"/><circle cx="355.2" cy="1073.4" r="4.6"/><circle cx="356.7" cy="1086.4" r="4.6"/><circle cx="329.6" cy="1095.1" r="4.6"/><circle cx="328.5" cy="1106.8" r="4.6"/><circle cx="333.6" cy="1108.4" r="4.6"/><circle cx="340.6" cy="1107.6" r="4.6"/><circle cx="328.5" cy="1121.4" r="4.6"/><circle cx="341.8" cy="1130.8" r="4.6"/><circle cx="340.2" cy="1157.5" r="4.6"/><circle cx="355.6" cy="1164.2" r="4.6"/><circle cx="348.1" cy="1197.2" r="4.6"/></g><g fill="rgb(230,120,112)" fill-opacity="0.42" stroke="rgb(230,120,112)" stroke-opacity="0.6" stroke-width="1.5"><circle cx="345" cy="906.1" r="4.6"/><circle cx="326.1" cy="918.3" r="4.6"/><circle cx="348.9" cy="960.3" r="4.6"/><circle cx="336.7" cy="968.2" r="4.6"/><circle cx="337" cy="969.5" r="4.6"/><circle cx="347.3" cy="968.9" r="4.6"/><circle cx="352.4" cy="983.9" r="4.6"/><circle cx="336.5" cy="1000.4" r="4.6"/><circle cx="356.7" cy="997.6" r="4.6"/><circle cx="356.7" cy="1004.7" r="4.6"/><circle cx="339.5" cy="1009.4" r="4.6"/><circle cx="325.3" cy="1018.1" r="4.6"/><circle cx="354" cy="1026.3" r="4.6"/><circle cx="345.7" cy="1040.1" r="4.6"/><circle cx="325.3" cy="1042.4" r="4.6"/><circle cx="339.1" cy="1055" r="4.6"/><circle cx="337.5" cy="1062.8" r="4.6"/><circle cx="354.8" cy="1071.5" r="4.6"/><circle cx="331.6" cy="1088" r="4.6"/><circle cx="338.7" cy="1101.7" r="4.6"/><circle cx="356.3" cy="1103.3" r="4.6"/><circle cx="337.9" cy="1119" r="4.6"/><circle cx="352.4" cy="1121" r="4.6"/><circle cx="352" cy="1126" r="4.6"/><circle cx="345.3" cy="1205" r="4.6"/><circle cx="354.8" cy="1224.7" r="4.6"/></g><g fill="rgb(142,170,205)" fill-opacity="0.42" stroke="rgb(142,170,205)" stroke-opacity="0.6" stroke-width="1.5"><circle cx="741.6" cy="1075.7" r="4.6"/><circle cx="743.7" cy="1162.6" r="4.6"/><circle cx="759.4" cy="1172.7" r="4.6"/><circle cx="754" cy="1220.1" r="4.6"/><circle cx="754" cy="1222" r="4.6"/><circle cx="760" cy="1263.5" r="4.6"/><circle cx="737.6" cy="1281.9" r="4.6"/><circle cx="738" cy="1284" r="4.6"/><circle cx="743.1" cy="1294.5" r="4.6"/><circle cx="752.9" cy="1297.6" r="4.6"/><circle cx="760" cy="1302.3" r="4.6"/><circle cx="744.2" cy="1309.4" r="4.6"/><circle cx="750.5" cy="1315.3" r="4.6"/><circle cx="755.6" cy="1325.5" r="4.6"/><circle cx="764.7" cy="1322.8" r="4.6"/><circle cx="762.7" cy="1334.2" r="4.6"/><circle cx="770.2" cy="1344.8" r="4.6"/><circle cx="742.7" cy="1350.7" r="4.6"/><circle cx="738.3" cy="1354.6" r="4.6"/><circle cx="745.8" cy="1368.1" r="4.6"/><circle cx="745.8" cy="1398.7" r="4.6"/><circle cx="761.5" cy="1426.2" r="4.6"/><circle cx="765.1" cy="1436" r="4.6"/></g><g fill="rgb(230,120,112)" fill-opacity="0.42" stroke="rgb(230,120,112)" stroke-opacity="0.6" stroke-width="1.5"><circle cx="755.7" cy="1152.2" r="4.6"/><circle cx="762.9" cy="1204.8" r="4.6"/><circle cx="756.1" cy="1214.2" r="4.6"/><circle cx="749.8" cy="1254.2" r="4.6"/><circle cx="737.1" cy="1257.8" r="4.6"/><circle cx="759.2" cy="1274.1" r="4.6"/><circle cx="767.4" cy="1298.8" r="4.6"/><circle cx="758.4" cy="1305.1" r="4.6"/><circle cx="743.1" cy="1315.3" r="4.6"/><circle cx="744.6" cy="1314.1" r="4.6"/><circle cx="746.6" cy="1332.2" r="4.6"/><circle cx="739.9" cy="1341.2" r="4.6"/><circle cx="747" cy="1338.5" r="4.6"/><circle cx="750.9" cy="1336.9" r="4.6"/><circle cx="754.9" cy="1338.5" r="4.6"/><circle cx="768.2" cy="1342.8" r="4.6"/><circle cx="761.1" cy="1348.3" r="4.6"/><circle cx="744.2" cy="1361.5" r="4.6"/><circle cx="747.8" cy="1363.8" r="4.6"/><circle cx="758" cy="1362" r="4.6"/><circle cx="761.7" cy="1360.8" r="4.6"/><circle cx="739.1" cy="1368.1" r="4.6"/><circle cx="767.8" cy="1409.3" r="4.6"/><circle cx="757.2" cy="1443.5" r="4.6"/><circle cx="737.2" cy="1455.7" r="4.6"/><circle cx="745" cy="1465.1" r="4.6"/></g><g fill="rgb(142,170,205)" fill-opacity="0.42" stroke="rgb(142,170,205)" stroke-opacity="0.6" stroke-width="1.5"><circle cx="1169.8" cy="1180.8" r="4.6"/><circle cx="1173.4" cy="1259.6" r="4.6"/><circle cx="1175.7" cy="1262" r="4.6"/><circle cx="1178.5" cy="1263.2" r="4.6"/><circle cx="1173.4" cy="1272.2" r="4.6"/><circle cx="1162.8" cy="1278.1" r="4.6"/><circle cx="1168.3" cy="1286.3" r="4.6"/><circle cx="1168.7" cy="1288.7" r="4.6"/><circle cx="1149.4" cy="1298.5" r="4.6"/><circle cx="1167.9" cy="1306" r="4.6"/><circle cx="1164" cy="1313.4" r="4.6"/><circle cx="1167.1" cy="1320.5" r="4.6"/><circle cx="1160" cy="1321.7" r="4.6"/><circle cx="1179.7" cy="1324.4" r="4.6"/><circle cx="1155.7" cy="1333.1" r="4.6"/><circle cx="1170.2" cy="1331.5" r="4.6"/><circle cx="1176.5" cy="1331.5" r="4.6"/><circle cx="1181.6" cy="1339.4" r="4.6"/><circle cx="1166.7" cy="1340.6" r="4.6"/><circle cx="1181.2" cy="1353.1" r="4.6"/><circle cx="1162.4" cy="1368.6" r="4.6"/><circle cx="1167.1" cy="1371.7" r="4.6"/><circle cx="1172.6" cy="1389" r="4.6"/><circle cx="1179.3" cy="1391.7" r="4.6"/><circle cx="1173.8" cy="1423.6" r="4.6"/><circle cx="1160.8" cy="1429.4" r="4.6"/><circle cx="1149.4" cy="1457.7" r="4.6"/></g><g fill="rgb(230,120,112)" fill-opacity="0.42" stroke="rgb(230,120,112)" stroke-opacity="0.6" stroke-width="1.5"><circle cx="1174.5" cy="1027.6" r="4.6"/><circle cx="1180.3" cy="1232.1" r="4.6"/><circle cx="1153" cy="1261.6" r="4.6"/><circle cx="1154.1" cy="1284.4" r="4.6"/><circle cx="1177.7" cy="1284" r="4.6"/><circle cx="1175.3" cy="1293.4" r="4.6"/><circle cx="1174.5" cy="1296" r="4.6"/><circle cx="1176.5" cy="1315.8" r="4.6"/><circle cx="1149.8" cy="1328" r="4.6"/><circle cx="1160" cy="1329.2" r="4.6"/><circle cx="1162.8" cy="1333.5" r="4.6"/><circle cx="1173.4" cy="1344.5" r="4.6"/><circle cx="1173.4" cy="1346.5" r="4.6"/><circle cx="1155.5" cy="1345.5" r="4.6"/><circle cx="1159.2" cy="1356.1" r="4.6"/><circle cx="1180.5" cy="1368.2" r="4.6"/><circle cx="1154.5" cy="1374.9" r="4.6"/><circle cx="1175.3" cy="1379.2" r="4.6"/><circle cx="1173" cy="1382.3" r="4.6"/><circle cx="1164.4" cy="1385.8" r="4.6"/><circle cx="1151.8" cy="1394.1" r="4.6"/><circle cx="1170.2" cy="1394.1" r="4.6"/><circle cx="1170.2" cy="1401.2" r="4.6"/><circle cx="1154.9" cy="1437.7" r="4.6"/><circle cx="1168.7" cy="1441.2" r="4.6"/><circle cx="1175" cy="1455.8" r="4.6"/></g>
</svg></body></html>
